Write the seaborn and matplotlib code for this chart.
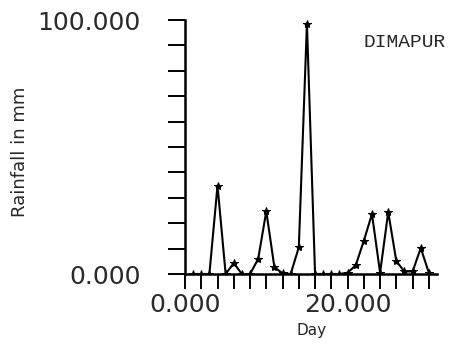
import numpy as np
import pandas as pd
import matplotlib
matplotlib.use("Agg")
import matplotlib.pyplot as plt
import seaborn as sns

# %% datos
days = list(range(1, 31))
rainfall = [0.0, 0.0, 0.0, 34.8, 0.0, 4.3, 0.0, 0.0, 5.9, 24.7,
            2.6, 0.3, 0.0, 10.5, 98.6, 0.0, 0.0, 0.0, 0.0, 0.5,
            3.4, 13.1, 23.6, 0.5, 24.4, 5.0, 1.0, 1.0, 10.2, 0.5]
station = "DIMAPUR"
x_ticks = list(range(0, 31, 2))
x_labels = ["0.000" if t == 0 else ("20.000" if t == 20 else "") for t in x_ticks]
y_ticks = list(range(0, 101, 10))
y_labels = ["0.000" if t == 0 else ("100.000" if t == 100 else "") for t in y_ticks]

df = pd.DataFrame({"Day": days, "Rainfall": rainfall})

# %% estilo
sns.set_style("ticks")
plt.rcParams['font.family'] = ['DejaVu Sans']

fig = plt.figure(figsize=(4.51, 3.44), dpi=100)
ax = fig.add_axes([185 / 451, 70 / 344, 252 / 451, 254 / 344])

sns.lineplot(data=df, x="Day", y="Rainfall", ax=ax, color="black", linewidth=1.5,
             marker="*", markersize=6, markerfacecolor="black", markeredgecolor="black")

ax.set_xlim(0, 31)
ax.set_ylim(0, 100)
ax.set_xticks(x_ticks)
ax.set_xticklabels(x_labels, fontsize=18, color="#2a2a2a")
ax.set_yticks(y_ticks)
ax.set_yticklabels(y_labels, fontsize=18, color="#2a2a2a")
ax.tick_params(axis="x", direction="out", length=11, width=1.4, pad=3, color="black")
ax.tick_params(axis="y", direction="out", length=12, width=1.4, pad=20, color="black")

for s in ["top", "right"]:
    ax.spines[s].set_visible(False)
for s in ["left", "bottom"]:
    ax.spines[s].set_linewidth(1.8)
    ax.spines[s].set_color("black")

ax.set_xlabel("Day", fontsize=11, va="center")
ax.xaxis.set_label_coords(0.504, -0.224)
ax.set_ylabel("Rainfall in mm", fontsize=13, va="center")
ax.yaxis.set_label_coords(-0.655, 0.48)

ax.text(0.871, 0.913, station, transform=ax.transAxes, ha="center", va="center",
        fontsize=14, family="Liberation Mono")

fig.savefig("out.png", dpi=100, facecolor="white")
